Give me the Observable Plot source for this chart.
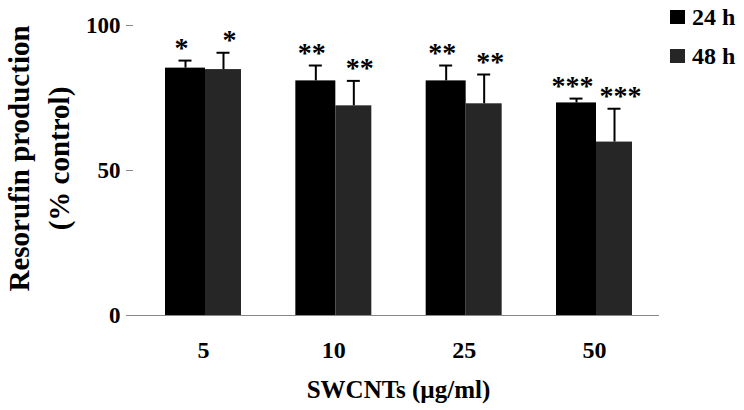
<!DOCTYPE html>
<html>
<head>
<meta charset="utf-8">
<script src="https://cdn.jsdelivr.net/npm/d3@7"></script>
<script src="https://cdn.jsdelivr.net/npm/@observablehq/plot@0.6"></script>
<style>
  body { margin: 0; background: #fff; }
  #wrap { position: relative; width: 744px; height: 410px; font-family: "Liberation Serif", "Times New Roman", serif; font-weight: bold; }
  .legend { position: absolute; left: 670px; font-size: 24px; line-height: 1; display: flex; align-items: center; color: #000; }
  .legend .sw { width: 15px; height: 14px; margin-right: 7px; }
</style>
</head>
<body>
<div id="wrap"></div>
<script>
const categories = ["5", "10", "25", "50"];
const series = ["24 h", "48 h"];
const mean24 = [85.3, 80.9, 80.9, 73.3];
const sd24 = [2.6, 5.3, 5.3, 1.5];
const mean48 = [84.8, 72.3, 73.0, 59.8];
const sd48 = [5.8, 8.6, 10.1, 11.5];
const stars24 = ["*", "**", "**", "***"];
const stars48 = ["*", "**", "**", "***"];
const colors = ["#000000", "#262626"];
const yTicks = [0, 50, 100];

const d24 = categories.map((c, i) => ({cat: c, mean: mean24[i], top: mean24[i] + sd24[i], star: stars24[i]}));
const d48 = categories.map((c, i) => ({cat: c, mean: mean48[i], top: mean48[i] + sd48[i], star: stars48[i]}));

const font = "'Liberation Serif', 'Times New Roman', serif";

const chart = Plot.plot({
  width: 744,
  height: 410,
  marginLeft: 133,
  marginRight: 85,
  marginTop: 25,
  marginBottom: 95,
  style: {fontFamily: font, fontWeight: "bold", color: "#000", background: "#fff", overflow: "visible"},
  x: {domain: categories, range: [165, 632], paddingInner: 0.417, paddingOuter: 0, round: false},
  y: {domain: [0, 100]},
  marks: [
    Plot.barY(d24, {x: "cat", y: "mean", fill: colors[0], insetRight: 36}),
    Plot.barY(d48, {x: "cat", y: "mean", fill: colors[1], insetLeft: 40}),
    Plot.ruleX(d24, {x: "cat", y1: "mean", y2: "top", dx: -18, stroke: "#000", strokeWidth: 2}),
    Plot.ruleX(d48, {x: "cat", y1: "mean", y2: "top", dx: 20, stroke: "#000", strokeWidth: 2}),
    Plot.tickY(d24, {x: "cat", y: "top", dx: -18, insetLeft: 31.5, insetRight: 31.5, stroke: "#000", strokeWidth: 2}),
    Plot.tickY(d48, {x: "cat", y: "top", dx: 20, insetLeft: 31.5, insetRight: 31.5, stroke: "#000", strokeWidth: 2}),
    Plot.text(d24, {x: "cat", y: "top", text: "star", dx: -22, dy: -4, lineAnchor: "bottom", fontSize: 28, fill: "#000"}),
    Plot.text(d48, {x: "cat", y: "top", text: "star", dx: 26, dy: -4, lineAnchor: "bottom", fontSize: 28, fill: "#000"}),
    Plot.ruleY([0], {stroke: "#888", strokeWidth: 1}),
    Plot.axisY({ticks: yTicks, tickSize: 7, tickPadding: 6, fontSize: 23, label: null, line: true, stroke: "#888", fill: "#000"}),
    Plot.axisX({tickSize: 0, tickPadding: 25, fontSize: 24, label: null, fill: "#000"}),
    Plot.text(["Resorufin production\n(% control)"], {frameAnchor: "left", rotate: -90, lineAnchor: "top", textAnchor: "middle", dx: -133, dy: -12, fontSize: 29, lineHeight: 1.38, fill: "#000"}),
    Plot.text(["SWCNTs (µg/ml)"], {frameAnchor: "bottom", lineAnchor: "bottom", dx: 2, dy: 82, fontSize: 25, fill: "#000"})
  ]
});

const wrap = document.getElementById("wrap");
wrap.appendChild(chart);
series.forEach((s, i) => {
  const el = document.createElement("div");
  el.className = "legend";
  el.style.top = (5 + i * 39) + "px";
  const sw = document.createElement("span");
  sw.className = "sw";
  sw.style.background = colors[i];
  const t = document.createElement("span");
  t.textContent = s;
  el.appendChild(sw);
  el.appendChild(t);
  wrap.appendChild(el);
});
</script>
</body>
</html>
